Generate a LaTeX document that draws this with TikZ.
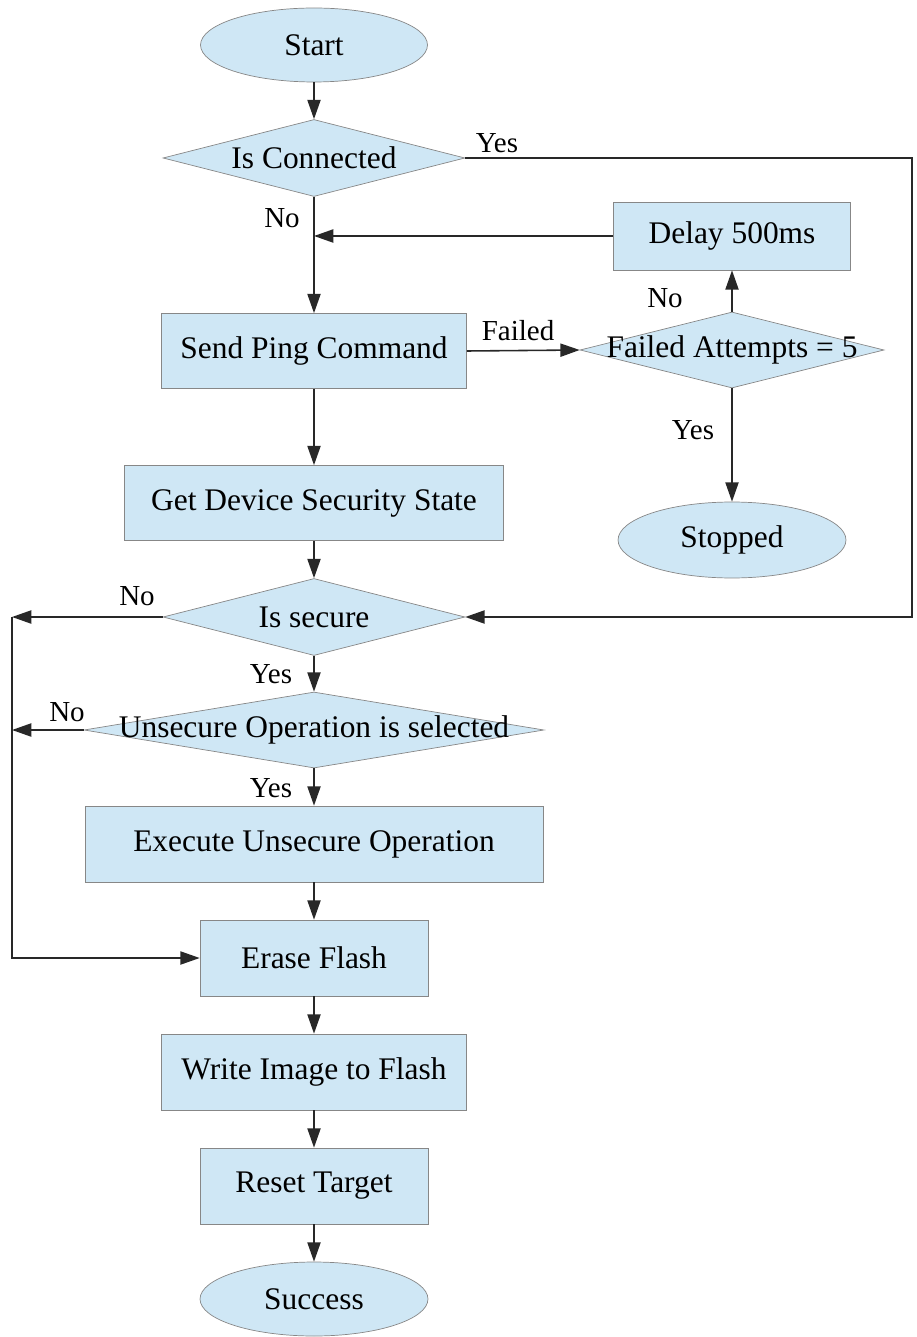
\documentclass[tikz,border=0pt]{standalone}
\usepackage{fontspec}
\setmainfont{Liberation Serif}
\usetikzlibrary{shapes.geometric, arrows.meta, positioning}
\definecolor{boxblue}{RGB}{207,231,245}
\definecolor{edgegray}{RGB}{135,135,135}
\definecolor{linegray}{RGB}{40,40,40}

\begin{document}
\begin{tikzpicture}[x=0.02cm, y=-0.02cm,
    proc/.style={draw=edgegray, fill=boxblue, inner sep=0pt, font=\fontsize{17.9}{21}\selectfont},
    term/.style={proc, ellipse},
    decision/.style={proc, diamond},
    lbl/.style={inner sep=0pt, font=\fontsize{16.5}{19}\selectfont},
    conn/.style={draw=linegray, line width=0.9pt},
    arr/.style={conn, -{Triangle[length=11pt,width=7.5pt]}}]
    \useasboundingbox (0,0) rectangle (916,1337);

    % main column
    \node[term, minimum width=4.54cm, minimum height=1.48cm] (start) at (314,45) {Start};
    \node[decision, minimum width=6.04cm, minimum height=1.54cm] (isconn) at (314,158) {\makebox[0pt]{Is Connected}};
    \node[proc, minimum width=6.1cm, minimum height=1.5cm] (ping) at (314,351) {Send Ping Command};
    \node[proc, minimum width=7.58cm, minimum height=1.5cm] (state) at (314,503) {Get Device Security State};
    \node[decision, minimum width=6.04cm, minimum height=1.54cm] (issec) at (314,617) {\makebox[0pt]{Is secure}};
    \node[decision, minimum width=9.2cm, minimum height=1.52cm] (unsec) at (314,730) {\makebox[0pt]{Unsecure Operation is selected}};
    \node[proc, minimum width=9.16cm, minimum height=1.52cm] (exec) at (314,844) {Execute Unsecure Operation};
    \node[proc, minimum width=4.56cm, minimum height=1.52cm] (erase) at (314,958) {Erase Flash};
    \node[proc, minimum width=6.1cm, minimum height=1.52cm] (write) at (314,1072) {Write Image to Flash};
    \node[proc, minimum width=4.56cm, minimum height=1.52cm] (reset) at (314,1186) {Reset Target};
    \node[term, minimum width=4.56cm, minimum height=1.48cm] (success) at (314,1299) {Success};

    % retry branch
    \node[proc, minimum width=4.74cm, minimum height=1.36cm] (delay) at (732,236) {Delay 500ms};
    \node[decision, minimum width=6.08cm, minimum height=1.52cm] (attempts) at (732,350) {\makebox[0pt]{Failed Attempts = 5}};
    \node[term, minimum width=4.56cm, minimum height=1.52cm] (stopped) at (732,540) {Stopped};

    \coordinate (retry) at (isconn.south |- delay.west);
    \coordinate (rtop) at (912,158);
    \coordinate (rbot) at (912,617);
    \coordinate (ltop) at (12,617);
    \coordinate (lbot) at (12,958);

    \draw[arr] (start) -- (isconn);
    \draw[arr] (isconn.south) -- (ping.north);
    \draw[arr] (delay.west) -- (retry);
    \draw[arr] (ping.east) -- (attempts.west);
    \draw[arr] (attempts.north) -- (delay.south);
    \draw[arr] (attempts.south) -- (stopped.north);
    \draw[arr] (isconn.east) -- (rtop) -- (rbot) -- (issec.east);
    \draw[arr] (ping) -- (state);
    \draw[arr] (state) -- (issec);
    \draw[arr] (issec.west) -- (ltop);
    \draw[arr] (ltop) -- (lbot) -- (erase.west);
    \draw[arr] (unsec.west) -- (unsec.west -| ltop);
    \draw[arr] (issec.south) -- (unsec.north);
    \draw[arr] (unsec.south) -- (exec.north);
    \draw[arr] (exec) -- (erase);
    \draw[arr] (erase) -- (write);
    \draw[arr] (write) -- (reset);
    \draw[arr] (reset) -- (success);

    % branch labels
    \node[lbl] (yesconn) at (497,143) {Yes};
    \node[lbl] (noconn) at (282,218) {No};
    \node[lbl] (failed) at (518,331) {Failed};
    \node[lbl] (noatt) at (665,298) {No};
    \node[lbl] (yesatt) at (693,430) {Yes};
    \node[lbl] (nosec) at (137,596) {No};
    \node[lbl] (yessec) at (271,674) {Yes};
    \node[lbl] (nounsec) at (67,712) {No};
    \node[lbl] (yesunsec) at (271,788) {Yes};
\end{tikzpicture}
\end{document}
